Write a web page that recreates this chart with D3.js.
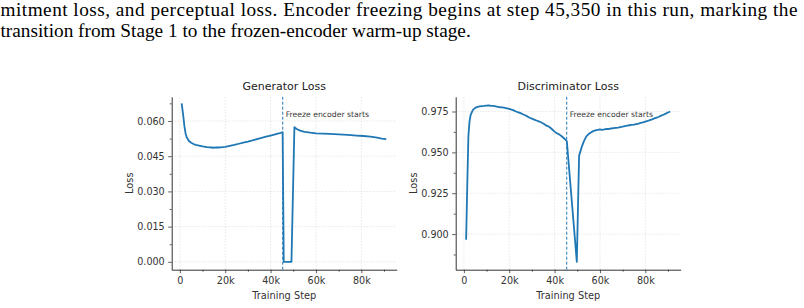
<!DOCTYPE html>
<html><head><meta charset="utf-8">
<script src="https://cdn.jsdelivr.net/npm/d3@7"></script>
<style>html,body{margin:0;padding:0;background:#fff;overflow:hidden}</style>
</head><body>
<script>
// ---- data ----
const paragraphLines = [
  "mitment loss, and perceptual loss. Encoder freezing begins at step 45,350 in this run, marking the",
  "transition from Stage 1 to the frozen-encoder warm-up stage."
];
const freezeStep = 45350;
const annotationText = "Freeze encoder starts";
const panelTitles = ["Generator Loss", "Discriminator Loss"];
const xLabel = "Training Step";
const yLabel = "Loss";
const xTicks = [0, 20000, 40000, 60000, 80000];
const xTickLabels = ["0", "20k", "40k", "60k", "80k"];
const xMinorTicks = [10000, 30000, 50000, 70000, 90000];
const genYTicks = [0.000, 0.015, 0.030, 0.045, 0.060];
const genYMinor = [0.0075, 0.0225, 0.0375, 0.0525, 0.0675];
const discYTicks = [0.900, 0.925, 0.950, 0.975];
const discYMinor = [0.8875, 0.9125, 0.9375, 0.9625];

const genSteps = [800,1500,2000,2500,3000,4000,5000,6000,7000,8000,9000,10000,12000,14000,15000,16000,17000,18000,20000,22000,24000,26000,28000,30000,32000,34000,36000,38000,40000,42000,44000,45300,45800,49200,50500,51500,53000,55000,57500,60000,63000,66000,70000,74000,78000,81000,84000,87000,89000,91000];
const genLoss  = [0.0675,0.0622,0.0578,0.0548,0.0531,0.0515,0.0507,0.0502,0.0498,0.0496,0.0494,0.0492,0.0489,0.0487,0.0486,0.0488,0.0487,0.0488,0.0490,0.0494,0.0498,0.0503,0.0508,0.0512,0.0517,0.0523,0.0528,0.0533,0.0538,0.0543,0.0548,0.0552,0.0000,0.0000,0.0574,0.0566,0.0559,0.0554,0.0550,0.0547,0.0546,0.0545,0.0543,0.0541,0.0538,0.0536,0.0533,0.0529,0.0525,0.0523];

const discSteps = [1000,1500,2000,2500,3000,4000,5000,6000,7000,8000,9000,10000,11000,12000,13000,14000,15000,16000,17000,18000,19000,20000,21000,22000,23000,24000,25000,26000,27000,28000,29000,30000,31000,32000,33000,34000,35000,36000,37000,38000,39000,40000,41000,42000,43000,44000,45000,45400,49800,50800,52000,53000,54000,55000,56000,57000,58000,59000,60000,61000,62000,63000,64000,65000,66000,67000,68000,69000,70000,71000,72000,73000,74000,75000,76000,77000,78000,79000,80000,81000,82000,83000,84000,85000,86000,87000,88000,89000,90000,91000];
const discLoss  = [0.8965,0.9300,0.9600,0.9690,0.9730,0.9760,0.9772,0.9778,0.9781,0.9783,0.9784,0.9786,0.9788,0.9785,0.9784,0.9782,0.9779,0.9776,0.9775,0.9772,0.9769,0.9766,0.9762,0.9757,0.9750,0.9745,0.9740,0.9733,0.9727,0.9720,0.9712,0.9706,0.9700,0.9695,0.9690,0.9684,0.9677,0.9667,0.9661,0.9652,0.9640,0.9627,0.9617,0.9610,0.9600,0.9588,0.9575,0.9568,0.8830,0.9480,0.9535,0.9570,0.9598,0.9612,0.9622,0.9630,0.9635,0.9638,0.9640,0.9638,0.9641,0.9643,0.9643,0.9646,0.9648,0.9650,0.9652,0.9655,0.9657,0.9660,0.9663,0.9666,0.9668,0.9670,0.9673,0.9676,0.9680,0.9683,0.9688,0.9692,0.9697,0.9702,0.9708,0.9712,0.9718,0.9725,0.9730,0.9737,0.9744,0.9750];

// ---- drawing ----
const W = 804, H = 308;
const svg = d3.select("body").append("svg").attr("width", W).attr("height", H)
  .style("background", "#fff");

// paragraph text
const serif = "'Liberation Serif','Times New Roman',serif";
const p2 = svg.append("text").attr("x", 0.5).attr("y", 37.2)
  .attr("font-family", serif).attr("font-size", 18).attr("fill", "#000")
  .text(paragraphLines[1]);
const w2 = p2.node().getComputedTextLength();
const fs = 18 * 470.5 / w2;
p2.attr("font-size", fs);
svg.append("text").attr("x", 0.5).attr("y", 15.8)
  .attr("font-family", serif).attr("font-size", fs).attr("fill", "#000")
  .attr("textLength", 797).attr("lengthAdjust", "spacing")
  .text(paragraphLines[0]);

const sans = "'DejaVu Sans', sans-serif";
const ink = "#333";
const lineColor = "#1f77b4";

function panel(opts) {
  const x = d3.scaleLinear().domain([-3600, 95600]).range([opts.x0, opts.x0 + 225]);
  const y = d3.scaleLinear().domain(opts.yDomain).range([269.7, 96.8]);
  const g = svg.append("g");

  // grid
  g.append("g").selectAll("line").data(xTicks).join("line")
    .attr("x1", d => x(d)).attr("x2", d => x(d)).attr("y1", y.range()[0]).attr("y2", y.range()[1])
    .attr("stroke", "#d9d9d9").attr("stroke-width", 0.6).attr("stroke-dasharray", "1.5,1.5");
  g.append("g").selectAll("line").data(opts.yTicks).join("line")
    .attr("x1", x.range()[0]).attr("x2", x.range()[1]).attr("y1", d => y(d)).attr("y2", d => y(d))
    .attr("stroke", "#d9d9d9").attr("stroke-width", 0.6).attr("stroke-dasharray", "1.5,1.5");

  // axes
  const xAxis = d3.axisBottom(x).tickValues(xTicks).tickFormat((d, i) => xTickLabels[i])
    .tickSizeInner(3.5).tickSizeOuter(0).tickPadding(3.5);
  const xg = g.append("g").attr("transform", `translate(0,${y.range()[0]})`).call(xAxis);
  const xm = d3.axisBottom(x).tickValues(xMinorTicks).tickFormat("").tickSizeInner(2).tickSizeOuter(0);
  const xmg = g.append("g").attr("transform", `translate(0,${y.range()[0]})`).call(xm);
  xmg.select(".domain").remove();

  const yAxis = d3.axisLeft(y).tickValues(opts.yTicks).tickFormat(d3.format(".3f"))
    .tickSizeInner(3.5).tickSizeOuter(0).tickPadding(3.5);
  const yg = g.append("g").attr("transform", `translate(${x.range()[0]},0)`).call(yAxis);
  const ym = d3.axisLeft(y).tickValues(opts.yMinor).tickFormat("").tickSizeInner(2).tickSizeOuter(0);
  const ymg = g.append("g").attr("transform", `translate(${x.range()[0]},0)`).call(ym);
  ymg.select(".domain").remove();

  [xg, yg, xmg, ymg].forEach(a => {
    a.selectAll("path.domain").attr("stroke", ink).attr("stroke-width", 1);
    a.selectAll(".tick line").attr("stroke", ink).attr("stroke-width", 0.8);
    a.selectAll(".tick text").attr("fill", ink).attr("font-family", sans).attr("font-size", 9.6);
  });

  // dashed freeze line
  g.append("line").attr("x1", x(freezeStep)).attr("x2", x(freezeStep))
    .attr("y1", y.range()[0]).attr("y2", y.range()[1])
    .attr("stroke", lineColor).attr("stroke-width", 1).attr("stroke-dasharray", "3,2");

  // series
  const line = d3.line().x((d, i) => x(opts.steps[i])).y(d => y(d));
  g.append("path").datum(opts.values).attr("d", line)
    .attr("fill", "none").attr("stroke", lineColor).attr("stroke-width", 1.8)
    .attr("stroke-linejoin", "round");

  // annotation
  g.append("text").attr("x", x(freezeStep) + 3).attr("y", 116.6)
    .attr("font-family", sans).attr("font-size", 7.7).attr("fill", ink)
    .text(annotationText);

  // labels
  const cx = (x.range()[0] + x.range()[1]) / 2;
  g.append("text").attr("x", cx).attr("y", 90).attr("text-anchor", "middle")
    .attr("font-family", sans).attr("font-size", 11).attr("fill", "#222").text(opts.title);
  g.append("text").attr("x", cx).attr("y", 298.5).attr("text-anchor", "middle")
    .attr("font-family", sans).attr("font-size", 9.8).attr("fill", ink).text(xLabel);
  const cy = (y.range()[0] + y.range()[1]) / 2;
  g.append("text").attr("transform", `translate(${opts.x0 - 38.8},${cy}) rotate(-90)`)
    .attr("text-anchor", "middle")
    .attr("font-family", sans).attr("font-size", 9.8).attr("fill", ink).text(yLabel);
}

panel({ x0: 171.7, yDomain: [-0.00335, 0.0703], yTicks: genYTicks, yMinor: genYMinor,
  steps: genSteps, values: genLoss, title: panelTitles[0] });
panel({ x0: 455.7, yDomain: [0.8782, 0.9840], yTicks: discYTicks, yMinor: discYMinor,
  steps: discSteps, values: discLoss, title: panelTitles[1] });
</script>
</body></html>
